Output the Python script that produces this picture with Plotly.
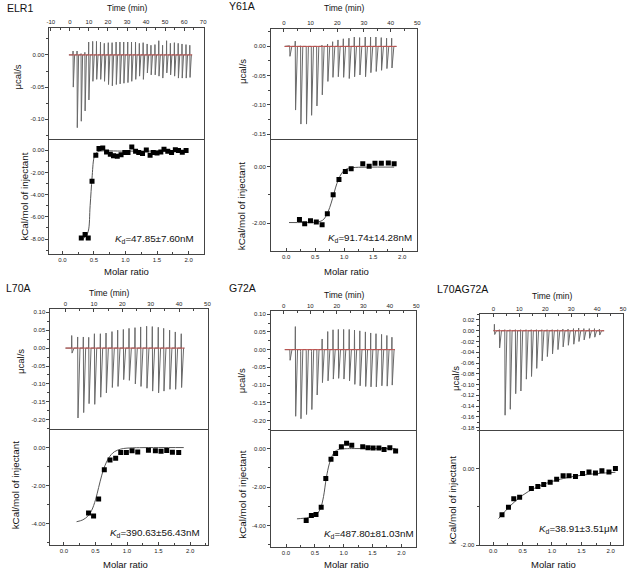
import plotly.graph_objects as go

W, H = 633, 572
FONT = 'Liberation Sans, Arial, sans-serif'

# ---------------- data ----------------
# raw thermograms: injection time (min), spike minimum / maximum (ucal/s)
elr1_inj_time = [1.6, 3.7, 5.8, 7.8, 9.8, 11.9, 13.9, 16.0, 18.0, 20.1, 22.1, 24.2, 26.2, 28.2, 30.3, 32.3,
                 34.4, 36.4, 38.4, 40.5, 42.5, 44.6, 46.6, 48.6, 50.7, 52.7, 54.8, 56.8, 58.8, 60.9, 62.9]
elr1_inj_min = [-0.050, -0.113, -0.103, -0.087, -0.070, -0.041, -0.038, -0.038, -0.041, -0.046, -0.048,
                -0.046, -0.045, -0.044, -0.043, -0.041, -0.038, -0.033, -0.038, -0.028, -0.031, -0.031,
                -0.033, -0.036, -0.028, -0.031, -0.033, -0.036, -0.036, -0.036, -0.035]
elr1_inj_max = [0.006, 0.006, 0.002, 0.004, 0.020, 0.021, 0.021, 0.020, 0.018, 0.019, 0.019, 0.020, 0.020,
                0.020, 0.020, 0.020, 0.020, 0.018, 0.019, 0.017, 0.015, 0.016, 0.022, 0.015, 0.022, 0.018,
                0.019, 0.018, 0.017, 0.016, 0.015]
elr1_baseline = [-0.5, 64.2]

y61a_inj_time = [2.1, 4.2, 6.2, 8.3, 10.2, 12.2, 14.2, 16.3, 18.2, 20.2, 22.2, 24.3, 26.3, 28.3, 30.4,
                 32.4, 34.4, 36.4, 38.4, 40.3]
y61a_inj_min = [-0.017, -0.109, -0.133, -0.133, -0.118, -0.102, -0.083, -0.060, -0.053, -0.052, -0.053,
                -0.055, -0.052, -0.049, -0.052, -0.045, -0.043, -0.041, -0.038, -0.037]
y61a_inj_max = [0.001, 0.009, 0.001, 0.000, 0.000, 0.000, 0.002, 0.004, 0.008, 0.011, 0.013, 0.014, 0.016,
                0.015, 0.016, 0.016, 0.016, 0.015, 0.014, 0.014]
y61a_baseline = [0.3, 42.2]

l70a_inj_time = [2.1, 4.2, 6.2, 8.1, 10.1, 12.2, 14.2, 16.3, 18.3, 20.3, 22.3, 24.4, 26.4, 28.5, 30.5,
                 32.6, 34.5, 36.6, 38.6, 40.7]
l70a_inj_min = [-0.014, -0.195, -0.180, -0.155, -0.157, -0.137, -0.125, -0.110, -0.107, -0.088, -0.090,
                -0.100, -0.107, -0.112, -0.120, -0.125, -0.120, -0.115, -0.115, -0.110]
l70a_inj_max = [0.035, 0.031, 0.031, 0.030, 0.040, 0.040, 0.042, 0.046, 0.050, 0.052, 0.055, 0.057, 0.059,
                0.061, 0.060, 0.058, 0.055, 0.050, 0.045, 0.040]
l70a_baseline = [0.0, 41.9]

g72a_inj_time = [2.2, 4.3, 6.3, 8.4, 10.4, 12.4, 14.4, 16.5, 18.5, 20.5, 22.5, 24.6, 26.6, 28.6, 30.7,
                 32.7, 34.7, 36.8, 38.8, 40.7]
g72a_inj_min = [-0.030, -0.188, -0.195, -0.183, -0.169, -0.128, -0.093, -0.088, -0.083, -0.081, -0.083,
                -0.088, -0.098, -0.102, -0.104, -0.105, -0.105, -0.102, -0.103, -0.100]
g72a_inj_max = [0.000, 0.065, -0.005, -0.003, -0.005, 0.000, 0.030, 0.051, 0.056, 0.057, 0.057, 0.057,
                0.055, 0.053, 0.050, 0.047, 0.045, 0.043, 0.040, 0.035]
g72a_baseline = [0.4, 41.9]

l70ag72a_inj_time = [0.3, 2.2, 4.3, 6.3, 8.4, 10.4, 12.5, 14.5, 16.5, 18.6, 20.6, 22.6, 24.7, 26.7, 28.7,
                     30.8, 32.8, 34.8, 36.9, 38.9, 40.8]
l70ag72a_inj_min = [-0.007, -0.032, -0.157, -0.146, -0.117, -0.112, -0.090, -0.085, -0.070, -0.056, -0.048,
                    -0.043, -0.035, -0.030, -0.027, -0.025, -0.020, -0.017, -0.014, -0.012, -0.008]
l70ag72a_inj_max = [0.012, 0.002, 0.002, 0.002, 0.002, 0.002, 0.002, 0.002, 0.002, 0.002, 0.002, 0.002,
                    0.002, 0.003, 0.003, 0.004, 0.005, 0.004, 0.004, 0.004, 0.003]
l70ag72a_baseline = [0.0, 42.7]

# integrated heats (kcal/mol of injectant) vs molar ratio, plus fitted curves
elr1_ratio = [0.30, 0.36, 0.41, 0.47, 0.53, 0.58, 0.64, 0.70, 0.76, 0.81, 0.87, 0.93, 0.99, 1.04, 1.10,
              1.16, 1.21, 1.27, 1.33, 1.39, 1.44, 1.50, 1.56, 1.61, 1.67, 1.73, 1.79, 1.84, 1.90, 1.96]
elr1_heat = [-7.9, -7.6, -7.9, -2.8, -0.45, 0.15, 0.2, -0.15, -0.35, -0.5, -0.55, -0.4, -0.2, -0.2, 0.3,
             -0.1, -0.2, -0.3, 0.03, -0.45, -0.2, -0.25, -0.15, 0.1, -0.1, -0.2, 0.05, -0.03, -0.18, -0.03]
elr1_fit_x = [0.30, 0.36, 0.41, 0.44, 0.47, 0.50, 0.53, 0.58, 1.00, 1.96]
elr1_fit_y = [-7.95, -7.85, -7.3, -5.0, -2.5, -0.7, -0.25, -0.1, -0.08, -0.08]

y61a_ratio = [0.23, 0.32, 0.42, 0.52, 0.62, 0.71, 0.81, 0.91, 1.02, 1.12, 1.32, 1.43, 1.53, 1.64, 1.76, 1.86]
y61a_heat = [-1.87, -2.02, -1.92, -1.96, -2.06, -1.67, -0.99, -0.45, -0.17, -0.07, 0.11, 0.02, 0.13, 0.13,
             0.14, 0.11]
y61a_fit_x = [0.05, 0.30, 0.50, 0.60, 0.65, 0.70, 0.75, 0.80, 0.85, 0.90, 0.95, 1.00, 1.05, 1.10, 1.20, 1.40, 1.86]
y61a_fit_y = [-1.98, -1.98, -1.97, -1.93, -1.86, -1.70, -1.45, -1.12, -0.75, -0.45, -0.25, -0.13, -0.07,
              -0.04, -0.02, -0.01, -0.01]

l70a_ratio = [0.39, 0.47, 0.55, 0.64, 0.73, 0.82, 0.90, 0.99, 1.08, 1.17, 1.34, 1.45, 1.54, 1.63, 1.72, 1.82]
l70a_heat = [-3.44, -3.60, -2.71, -1.17, -0.66, -0.56, -0.26, -0.26, -0.17, -0.23, -0.14, -0.17, -0.19,
             -0.16, -0.24, -0.26]
l70a_fit_x = [0.20, 0.30, 0.38, 0.44, 0.50, 0.55, 0.60, 0.65, 0.70, 0.75, 0.80, 0.90, 1.00, 1.20, 1.50, 1.90]
l70a_fit_y = [-3.9, -3.8, -3.6, -3.3, -2.75, -2.1, -1.45, -0.95, -0.6, -0.37, -0.22, -0.08, -0.03, -0.005,
              0.0, 0.0]

g72a_ratio = [0.35, 0.44, 0.52, 0.61, 0.69, 0.78, 0.86, 0.96, 1.05, 1.14, 1.33, 1.42, 1.51, 1.61, 1.70,
              1.80, 1.90]
g72a_heat = [-3.74, -3.48, -3.43, -3.05, -1.55, -0.55, -0.26, 0.09, 0.28, 0.17, 0.10, 0.05, 0.03, 0.03,
             -0.05, 0.05, -0.12]
g72a_fit_x = [0.19, 0.30, 0.40, 0.50, 0.55, 0.60, 0.65, 0.70, 0.75, 0.80, 0.85, 0.90, 0.95, 1.00, 1.10, 1.50, 1.90]
g72a_fit_y = [-3.65, -3.62, -3.57, -3.47, -3.35, -3.1, -2.5, -1.5, -0.8, -0.38, -0.15, -0.06, -0.02, -0.01,
              0.0, 0.0, 0.0]

l70ag72a_ratio = [0.15, 0.26, 0.35, 0.45, 0.65, 0.76, 0.86, 0.97, 1.08, 1.19, 1.29, 1.40, 1.52, 1.63, 1.74,
                  1.85, 1.97, 2.08]
l70ag72a_heat = [-1.21, -1.01, -0.79, -0.75, -0.52, -0.47, -0.42, -0.36, -0.28, -0.19, -0.19, -0.21, -0.13,
                 -0.09, -0.12, -0.06, -0.09, 0.0]
l70ag72a_fit_x = [0.09, 0.20, 0.30, 0.40, 0.50, 0.60, 0.70, 0.80, 0.90, 1.00, 1.20, 1.40, 1.60, 1.80, 2.08]
l70ag72a_fit_y = [-1.31, -1.12, -0.96, -0.82, -0.70, -0.60, -0.52, -0.45, -0.39, -0.34, -0.26, -0.20,
                  -0.16, -0.13, -0.10]

kd_text = ['47.85±7.60nM', '91.74±14.28nM', '390.63±56.43nM', '487.80±81.03nM', '38.91±3.51μM']
names = ['ELR1', 'Y61A', 'L70A', 'G72A', 'L70AG72A']

# tick labels
elr1_time_ticks = ['-10', '0', '10', '20', '30', '40', '50', '60', '70']
time_ticks = ['0', '10', '20', '30', '40', '50']
ratio_ticks = ['0.0', '0.5', '1.0', '1.5', '2.0']
elr1_raw_ticks = ['0.00', '-0.05', '-0.10']
y61a_raw_ticks = ['0.00', '-0.05', '-0.10', '-0.15']
l70a_raw_ticks = ['0.10', '0.05', '0.00', '-0.05', '-0.10', '-0.15', '-0.20']
l70ag72a_raw_ticks = ['0.02', '0.00', '-0.02', '-0.04', '-0.06', '-0.08', '-0.10', '-0.12', '-0.14',
                      '-0.16', '-0.18']
elr1_heat_ticks = ['0.00', '-2.00', '-4.00', '-6.00', '-8.00']
short_heat_ticks = ['0.00', '-2.00']
mid_heat_ticks = ['0.00', '-2.00', '-4.00']

# ---------------- panel geometry (pixels) ----------------
panels = [
    dict(t=elr1_inj_time, lo=elr1_inj_min, hi=elr1_inj_max, base=elr1_baseline,
         rx=elr1_ratio, hy=elr1_heat, fx=elr1_fit_x, fy=elr1_fit_y,
         tt=elr1_time_ticks, rt=elr1_raw_ticks, ht=elr1_heat_ticks, rstep=0.025, hstep=1,
         box=(47, 203, 28, 140, 255), trange=[-10.7, 70.3], rawrange=[-0.131, 0.042],
         xr=[-0.204, 2.24], hr=[-9.32, 0.99],
         lab=(2, 8), time=(125, 8), mu=(15, 77), kc=(22, 198), mr=(125, 273), kd=(153, 240)),
    dict(t=y61a_inj_time, lo=y61a_inj_min, hi=y61a_inj_max, base=y61a_baseline,
         rx=y61a_ratio, hy=y61a_heat, fx=y61a_fit_x, fy=y61a_fit_y,
         tt=time_ticks, rt=y61a_raw_ticks, ht=short_heat_ticks, rstep=0.025, hstep=1,
         box=(271, 419, 29, 140, 252), trange=[-4.8, 50], rawrange=[-0.159, 0.030],
         xr=[-0.26, 2.26], hr=[-2.98, 0.98],
         lab=(227, 6), time=(345, 8), mu=(242, 72), kc=(242, 207), mr=(347, 273), kd=(371, 239)),
    dict(t=l70a_inj_time, lo=l70a_inj_min, hi=l70a_inj_max, base=l70a_baseline,
         rx=l70a_ratio, hy=l70a_heat, fx=l70a_fit_x, fy=l70a_fit_y,
         tt=time_ticks, rt=l70a_raw_ticks, ht=mid_heat_ticks, rstep=0.025, hstep=1,
         box=(48, 207, 311, 431, 548), trange=[-5.3, 50.1], rawrange=[-0.225, 0.108],
         xr=[-0.214, 2.28], hr=[-5.13, 0.99],
         lab=(1, 290), time=(107, 295), mu=(17, 363), kc=(13, 488), mr=(124, 567), kd=(154, 536)),
    dict(t=g72a_inj_time, lo=g72a_inj_min, hi=g72a_inj_max, base=g72a_baseline,
         rx=g72a_ratio, hy=g72a_heat, fx=g72a_fit_x, fy=g72a_fit_y,
         tt=time_ticks, rt=l70a_raw_ticks, ht=mid_heat_ticks, rstep=0.025, hstep=1,
         box=(271, 418, 313, 432, 550), trange=[-4.8, 50], rawrange=[-0.226, 0.108],
         xr=[-0.26, 2.26], hr=[-5.12, 0.98],
         lab=(227, 290), time=(345, 297), mu=(242, 383), kc=(242, 497), mr=(347, 567), kd=(370, 537)),
    dict(t=l70ag72a_inj_time, lo=l70ag72a_inj_min, hi=l70ag72a_inj_max, base=l70ag72a_baseline,
         rx=l70ag72a_ratio, hy=l70ag72a_heat, fx=l70ag72a_fit_x, fy=l70ag72a_fit_y,
         tt=time_ticks, rt=l70ag72a_raw_ticks, ht=short_heat_ticks, rstep=0.01, hstep=1,
         box=(482, 627, 316, 432, 548), trange=[-5.3, 50], rawrange=[-0.184, 0.0305],
         xr=[-0.23, 2.21], hr=[-2.0, 1.01],
         lab=(437, 291), time=(555, 298), mu=(457, 380), kc=(454, 503), mr=(557, 567), kd=(582, 532)),
]


def fx_(p):
    return p / W


def fy_(p):
    return 1 - p / H


def thermogram(t, lo, hi, base):
    xs, ys = [base[0]], [0]
    for ti, a, b in zip(t, lo, hi):
        xs += [ti, ti + 0.08, ti + 0.2, ti + 0.9]
        ys += [0, b, a, 0]
    xs.append(base[1])
    ys.append(0)
    return xs, ys


LINE = '#444444'
tickfont = dict(family=FONT, size=6, color='#222222')


def axis(domain, rng, labels, side, ticks, minor_step, anchor, mirror=True):
    return dict(domain=domain, range=rng, anchor=anchor, side=side,
                tickmode='array', tickvals=[float(s) for s in labels], ticktext=labels,
                ticks=ticks, ticklen=3, tickwidth=1, tickcolor=LINE,
                minor=dict(ticks=ticks, ticklen=2, tickwidth=1, tickcolor=LINE,
                           tickmode='linear', tick0=0, dtick=minor_step),
                showline=True, linecolor=LINE, linewidth=1, mirror=mirror,
                showgrid=False, zeroline=False, tickfont=tickfont, fixedrange=True)


fig = go.Figure()
layout = dict(width=W, height=H, autosize=False, margin=dict(l=0, r=0, t=0, b=0),
              paper_bgcolor='white', plot_bgcolor='white', showlegend=False,
              font=dict(family=FONT, color='#111111'))
annotations = []

for i, p in enumerate(panels):
    n1, n2 = 2 * i + 1, 2 * i + 2
    s1 = '' if n1 == 1 else str(n1)
    s2 = str(n2)
    left, right, top, mid, bottom = p['box']
    xdom = [fx_(left), fx_(right)]
    layout['xaxis' + s1] = axis(xdom, p['trange'], p['tt'], 'top', 'inside', 5, 'y' + s1)
    layout['yaxis' + s1] = axis([fy_(mid), fy_(top)], p['rawrange'], p['rt'], 'left', 'outside',
                                p['rstep'], 'x' + s1)
    layout['xaxis' + s2] = axis(xdom, p['xr'], ratio_ticks, 'bottom', 'inside', 0.25, 'y' + s2,
                                mirror=False)
    layout['yaxis' + s2] = axis([fy_(bottom), fy_(mid)], p['hr'], p['ht'], 'left', 'outside',
                                p['hstep'], 'x' + s2)

    tx, ty = thermogram(p['t'], p['lo'], p['hi'], p['base'])
    fig.add_trace(go.Scatter(x=tx, y=ty, mode='lines', xaxis='x' + s1, yaxis='y' + s1,
                             line=dict(color='#6a6a6a', width=1)))
    fig.add_trace(go.Scatter(x=p['base'], y=[0, 0], mode='lines', xaxis='x' + s1, yaxis='y' + s1,
                             line=dict(color='#c0504d', width=1)))
    fig.add_trace(go.Scatter(x=p['fx'], y=p['fy'], mode='lines', xaxis='x' + s2, yaxis='y' + s2,
                             line=dict(color='#555555', width=1, shape='spline')))
    fig.add_trace(go.Scatter(x=p['rx'], y=p['hy'], mode='markers', xaxis='x' + s2, yaxis='y' + s2,
                             marker=dict(symbol='square', size=5, color='black')))

    def note(pos, text, size, anchor='center', angle=0):
        annotations.append(dict(x=fx_(pos[0]), y=fy_(pos[1]), xref='paper', yref='paper',
                                text=text, showarrow=False, xanchor=anchor, yanchor='middle',
                                textangle=angle, font=dict(family=FONT, size=size, color='#111111')))

    note(p['lab'], names[i], 10.5, anchor='left')
    note(p['time'], 'Time (min)', 8.5)
    note(p['mu'], 'μcal/s', 9.5, angle=-90)
    note(p['kc'], 'kCal/mol of injectant', 9.8, angle=-90)
    note(p['mr'], 'Molar ratio', 9.5)
    note(p['kd'], '<i>K</i><sub>d</sub>=' + kd_text[i], 9.8)

layout['annotations'] = annotations
fig.update_layout(**layout)
fig.write_html('out.html', config={'displayModeBar': False},
               post_script="document.body.style.margin='0px';"
                           "document.body.style.overflow='hidden';")
